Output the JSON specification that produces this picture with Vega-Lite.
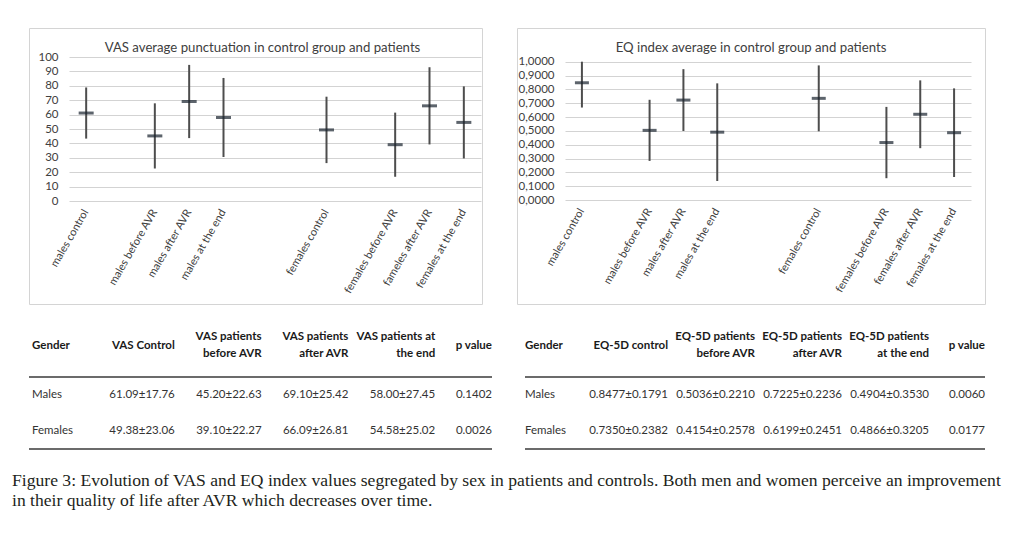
{
  "$schema": "https://vega.github.io/schema/vega-lite/v6.json",
  "padding": {"left": 2, "top": 27, "right": 0, "bottom": 0},
  "background": "white",
  "config": {"view": {"stroke": null}, "font": "Lato"},
  "datasets": {
    "vas": [
      {"group": "males control", "mean": 61.09, "low": 43.33, "high": 78.85},
      {"group": "males before AVR", "mean": 45.20, "low": 22.57, "high": 67.83},
      {"group": "males after AVR", "mean": 69.10, "low": 43.68, "high": 94.52},
      {"group": "males at the end", "mean": 58.00, "low": 30.55, "high": 85.45},
      {"group": "females control", "mean": 49.38, "low": 26.32, "high": 72.44},
      {"group": "females before AVR", "mean": 39.10, "low": 16.83, "high": 61.37},
      {"group": "fameles after AVR", "mean": 66.09, "low": 39.28, "high": 92.90},
      {"group": "females at the end", "mean": 54.58, "low": 29.56, "high": 79.60}
    ],
    "eq": [
      {"group": "males control", "mean": 0.8477, "low": 0.6686, "high": 1.0268},
      {"group": "males before AVR", "mean": 0.5036, "low": 0.2826, "high": 0.7246},
      {"group": "males after AVR", "mean": 0.7225, "low": 0.4989, "high": 0.9461},
      {"group": "males at the end", "mean": 0.4904, "low": 0.1374, "high": 0.8434},
      {"group": "females control", "mean": 0.7350, "low": 0.4968, "high": 0.9732},
      {"group": "females before AVR", "mean": 0.4154, "low": 0.1576, "high": 0.6732},
      {"group": "females after AVR", "mean": 0.6199, "low": 0.3748, "high": 0.8650},
      {"group": "females at the end", "mean": 0.4866, "low": 0.1661, "high": 0.8071}
    ],
    "vasTable": [
      {"row": "header", "col": "Gender", "text": "Gender"},
      {"row": "header", "col": "c1", "text": "VAS Control"},
      {"row": "header", "col": "c2", "text": ["VAS patients", "before AVR"]},
      {"row": "header", "col": "c3", "text": ["VAS patients", "after AVR"]},
      {"row": "header", "col": "c4", "text": ["VAS patients at", "the end"]},
      {"row": "header", "col": "p", "text": "p value"},
      {"row": "Males", "col": "Gender", "text": "Males"},
      {"row": "Males", "col": "c1", "text": "61.09±17.76"},
      {"row": "Males", "col": "c2", "text": "45.20±22.63"},
      {"row": "Males", "col": "c3", "text": "69.10±25.42"},
      {"row": "Males", "col": "c4", "text": "58.00±27.45"},
      {"row": "Males", "col": "p", "text": "0.1402"},
      {"row": "Females", "col": "Gender", "text": "Females"},
      {"row": "Females", "col": "c1", "text": "49.38±23.06"},
      {"row": "Females", "col": "c2", "text": "39.10±22.27"},
      {"row": "Females", "col": "c3", "text": "66.09±26.81"},
      {"row": "Females", "col": "c4", "text": "54.58±25.02"},
      {"row": "Females", "col": "p", "text": "0.0026"}
    ],
    "eqTable": [
      {"row": "header", "col": "Gender", "text": "Gender"},
      {"row": "header", "col": "c1", "text": "EQ-5D control"},
      {"row": "header", "col": "c2", "text": ["EQ-5D patients", "before AVR"]},
      {"row": "header", "col": "c3", "text": ["EQ-5D patients", "after AVR"]},
      {"row": "header", "col": "c4", "text": ["EQ-5D patients", "at the end"]},
      {"row": "header", "col": "p", "text": "p value"},
      {"row": "Males", "col": "Gender", "text": "Males"},
      {"row": "Males", "col": "c1", "text": "0.8477±0.1791"},
      {"row": "Males", "col": "c2", "text": "0.5036±0.2210"},
      {"row": "Males", "col": "c3", "text": "0.7225±0.2236"},
      {"row": "Males", "col": "c4", "text": "0.4904±0.3530"},
      {"row": "Males", "col": "p", "text": "0.0060"},
      {"row": "Females", "col": "Gender", "text": "Females"},
      {"row": "Females", "col": "c1", "text": "0.7350±0.2382"},
      {"row": "Females", "col": "c2", "text": "0.4154±0.2578"},
      {"row": "Females", "col": "c3", "text": "0.6199±0.2451"},
      {"row": "Females", "col": "c4", "text": "0.4866±0.3205"},
      {"row": "Females", "col": "p", "text": "0.0177"}
    ],
    "tableLines": [{"row": "header"}, {"row": "Females"}],
    "caption": [
      {"line": 1, "t": "Figure 3: Evolution of VAS and EQ index values segregated by sex in patients and controls. Both men and women perceive an improvement"},
      {"line": 2, "t": "in their quality of life after AVR which decreases over time."}
    ]
  },
  "spacing": 21,
  "vconcat": [
    {
      "spacing": 0,
      "hconcat": [
        {"width": 26, "height": 10, "data": {"values": []}, "mark": "text"},
        {
          "spacing": 26,
          "vconcat": [
            {
              "spacing": 33,
              "hconcat": [
                {
                  "width": 453, "height": 276,
                  "view": {"stroke": "#d4d4d4", "strokeWidth": 1, "fill": "white"},
                  "title": {"text": "VAS average punctuation  in control group and patients", "offset": -27, "dx": 7, "anchor": "middle", "font": "Lato", "fontSize": 13.2, "fontWeight": "normal", "color": "#404040"},
                  "data": {"name": "vas"},
                  "encoding": {
                    "x": {
                      "field": "group", "type": "nominal",
                      "scale": {"type": "band", "domain": ["males control", " ", "males before AVR", "males after AVR", "males at the end", "  ", "   ", "females control", "    ", "females before AVR", "fameles after AVR", "females at the end"], "range": [40, 452], "paddingInner": 0, "paddingOuter": 0},
                      "axis": {"orient": "bottom", "offset": -103, "title": null, "labelAngle": -60, "labelAlign": "right", "labelBaseline": "middle", "labelPadding": 9, "ticks": false, "domain": false, "grid": false, "labelFont": "Lato", "labelFontSize": 11, "labelColor": "#404040"}
                    }
                  },
                  "layer": [
                    {
                      "mark": {"type": "rule", "color": "#4d4d4d", "strokeWidth": 2},
                      "encoding": {
                        "y": {"field": "low", "type": "quantitative", "scale": {"domain": [0, 100], "range": [173, 29], "nice": false, "clamp": true},
                          "axis": {"orient": "left", "offset": -40, "title": null, "values": [0, 10, 20, 30, 40, 50, 60, 70, 80, 90, 100], "format": "d", "domain": false, "ticks": false, "labelPadding": 11, "grid": true, "gridColor": "#d3d3d3", "gridWidth": 1, "labelOverlap": false, "labelFont": "Lato", "labelFontSize": 11.5, "labelColor": "#404040"}},
                        "y2": {"field": "high"}
                      }
                    },
                    {
                      "mark": {"type": "tick", "orient": "horizontal", "size": 15, "thickness": 3, "color": "#18222d"},
                      "encoding": {"y": {"field": "mean", "type": "quantitative",
                        "axis": {"orient": "left", "offset": -40, "title": null, "values": [0, 10, 20, 30, 40, 50, 60, 70, 80, 90, 100], "format": "d", "domain": false, "ticks": false, "labelPadding": 11, "grid": true, "gridColor": "#d3d3d3", "gridWidth": 1, "labelOverlap": false, "labelFont": "Lato", "labelFontSize": 11.5, "labelColor": "#404040"}}}
                    }
                  ]
                },
                {
                  "width": 468, "height": 276,
                  "view": {"stroke": "#d4d4d4", "strokeWidth": 1, "fill": "white"},
                  "title": {"text": "EQ index average in control group and patients", "offset": -27, "anchor": "middle", "font": "Lato", "fontSize": 13.2, "fontWeight": "normal", "color": "#404040"},
                  "data": {"name": "eq"},
                  "encoding": {
                    "x": {
                      "field": "group", "type": "nominal",
                      "scale": {"type": "band", "domain": ["males control", " ", "males before AVR", "males after AVR", "males at the end", "  ", "   ", "females control", "    ", "females before AVR", "females after AVR", "females at the end"], "range": [48, 454], "paddingInner": 0, "paddingOuter": 0},
                      "axis": {"orient": "bottom", "offset": -104, "title": null, "labelAngle": -60, "labelAlign": "right", "labelBaseline": "middle", "labelPadding": 9, "ticks": false, "domain": false, "grid": false, "labelFont": "Lato", "labelFontSize": 11, "labelColor": "#404040"}
                    }
                  },
                  "layer": [
                    {
                      "mark": {"type": "rule", "color": "#4d4d4d", "strokeWidth": 2},
                      "encoding": {
                        "y": {"field": "low", "type": "quantitative", "scale": {"domain": [0, 1], "range": [172, 33.7], "nice": false, "clamp": true},
                          "axis": {"orient": "left", "offset": -48, "title": null, "values": [0, 0.1, 0.2, 0.3, 0.4, 0.5, 0.6, 0.7, 0.8, 0.9, 1], "labelExpr": "replace(format(datum.value, '.4f'), '.', ',')", "domain": false, "ticks": false, "labelPadding": 11, "grid": true, "gridColor": "#d3d3d3", "gridWidth": 1, "labelOverlap": false, "labelFont": "Lato", "labelFontSize": 11.5, "labelColor": "#404040"}},
                        "y2": {"field": "high"}
                      }
                    },
                    {
                      "mark": {"type": "tick", "orient": "horizontal", "size": 14, "thickness": 3, "color": "#18222d"},
                      "encoding": {"y": {"field": "mean", "type": "quantitative",
                        "axis": {"orient": "left", "offset": -48, "title": null, "values": [0, 0.1, 0.2, 0.3, 0.4, 0.5, 0.6, 0.7, 0.8, 0.9, 1], "labelExpr": "replace(format(datum.value, '.4f'), '.', ',')", "domain": false, "ticks": false, "labelPadding": 11, "grid": true, "gridColor": "#d3d3d3", "gridWidth": 1, "labelOverlap": false, "labelFont": "Lato", "labelFontSize": 11.5, "labelColor": "#404040"}}}
                    }
                  ]
                }
              ]
            },
            {
              "spacing": 31,
              "hconcat": [
                {
                  "width": 463, "height": 108,
                  "data": {"name": "vasTable"},
                  "encoding": {
                    "y": {"field": "row", "type": "nominal", "scale": {"type": "band", "domain": ["header", "Males", "Females"], "paddingInner": 0, "paddingOuter": 0}, "axis": null}
                  },
                  "layer": [
                    {
                      "transform": [{"filter": "datum.row === 'header' && datum.col === 'Gender'"}],
                      "mark": {"type": "text", "align": "left", "baseline": "middle", "dx": -56, "dy": -13, "font": "Lato", "fontSize": 11.5, "fontWeight": "bold", "color": "#1a1a1a"},
                      "encoding": {"x": {"field": "col", "type": "nominal", "scale": {"type": "point", "domain": ["Gender", "c1", "c2", "c3", "c4", "p"], "range": [59, 493], "padding": 0}, "axis": null}, "text": {"field": "text"}}
                    },
                    {
                      "transform": [{"filter": "datum.row === 'header' && datum.col === 'c1'"}],
                      "mark": {"type": "text", "align": "right", "baseline": "middle", "dy": -13, "font": "Lato", "fontSize": 11.5, "fontWeight": "bold", "color": "#1a1a1a"},
                      "encoding": {"x": {"field": "col", "type": "nominal", "axis": null}, "text": {"field": "text"}}
                    },
                    {
                      "transform": [{"filter": "datum.row === 'header' && (datum.col === 'c2' || datum.col === 'c3' || datum.col === 'c4')"}],
                      "mark": {"type": "text", "align": "right", "baseline": "middle", "dy": -22, "font": "Lato", "fontSize": 11.5, "fontWeight": "bold", "color": "#1a1a1a", "lineHeight": 17},
                      "encoding": {"x": {"field": "col", "type": "nominal", "axis": null}, "text": {"field": "text"}}
                    },
                    {
                      "transform": [{"filter": "datum.row === 'header' && datum.col === 'p'"}],
                      "mark": {"type": "text", "align": "right", "baseline": "middle", "dx": -30, "dy": -13, "font": "Lato", "fontSize": 11.5, "fontWeight": "bold", "color": "#1a1a1a"},
                      "encoding": {"x": {"field": "col", "type": "nominal", "axis": null}, "text": {"field": "text"}}
                    },
                    {
                      "transform": [{"filter": "datum.row !== 'header' && datum.col === 'Gender'"}],
                      "mark": {"type": "text", "align": "left", "baseline": "middle", "dx": -56, "font": "Lato", "fontSize": 11.5, "color": "#333333"},
                      "encoding": {"x": {"field": "col", "type": "nominal", "axis": null}, "text": {"field": "text"}}
                    },
                    {
                      "transform": [{"filter": "datum.row !== 'header' && datum.col !== 'Gender' && datum.col !== 'p'"}],
                      "mark": {"type": "text", "align": "right", "baseline": "middle", "font": "Lato", "fontSize": 11.5, "color": "#333333"},
                      "encoding": {"x": {"field": "col", "type": "nominal", "axis": null}, "text": {"field": "text"}}
                    },
                    {
                      "transform": [{"filter": "datum.row !== 'header' && datum.col === 'p'"}],
                      "mark": {"type": "text", "align": "right", "baseline": "middle", "dx": -30, "font": "Lato", "fontSize": 11.5, "color": "#333333"},
                      "encoding": {"x": {"field": "col", "type": "nominal", "axis": null}, "text": {"field": "text"}}
                    },
                    {
                      "data": {"name": "tableLines"},
                      "mark": {"type": "rule", "color": "#3a3a3a", "strokeWidth": 1.5},
                      "encoding": {"y": {"field": "row", "type": "nominal", "bandPosition": 1, "axis": null}}
                    }
                  ]
                },
                {
                  "width": 460, "height": 108,
                  "data": {"name": "eqTable"},
                  "encoding": {
                    "y": {"field": "row", "type": "nominal", "scale": {"type": "band", "domain": ["header", "Males", "Females"], "paddingInner": 0, "paddingOuter": 0}, "axis": null}
                  },
                  "layer": [
                    {
                      "transform": [{"filter": "datum.row === 'header' && datum.col === 'Gender'"}],
                      "mark": {"type": "text", "align": "left", "baseline": "middle", "dx": -56, "dy": -13, "font": "Lato", "fontSize": 11.5, "fontWeight": "bold", "color": "#1a1a1a"},
                      "encoding": {"x": {"field": "col", "type": "nominal", "scale": {"type": "point", "domain": ["Gender", "c1", "c2", "c3", "c4", "p"], "range": [56, 491], "padding": 0}, "axis": null}, "text": {"field": "text"}}
                    },
                    {
                      "transform": [{"filter": "datum.row === 'header' && datum.col === 'c1'"}],
                      "mark": {"type": "text", "align": "right", "baseline": "middle", "dy": -13, "font": "Lato", "fontSize": 11.5, "fontWeight": "bold", "color": "#1a1a1a"},
                      "encoding": {"x": {"field": "col", "type": "nominal", "axis": null}, "text": {"field": "text"}}
                    },
                    {
                      "transform": [{"filter": "datum.row === 'header' && (datum.col === 'c2' || datum.col === 'c3' || datum.col === 'c4')"}],
                      "mark": {"type": "text", "align": "right", "baseline": "middle", "dy": -22, "font": "Lato", "fontSize": 11.5, "fontWeight": "bold", "color": "#1a1a1a", "lineHeight": 17},
                      "encoding": {"x": {"field": "col", "type": "nominal", "axis": null}, "text": {"field": "text"}}
                    },
                    {
                      "transform": [{"filter": "datum.row === 'header' && datum.col === 'p'"}],
                      "mark": {"type": "text", "align": "right", "baseline": "middle", "dx": -31, "dy": -13, "font": "Lato", "fontSize": 11.5, "fontWeight": "bold", "color": "#1a1a1a"},
                      "encoding": {"x": {"field": "col", "type": "nominal", "axis": null}, "text": {"field": "text"}}
                    },
                    {
                      "transform": [{"filter": "datum.row !== 'header' && datum.col === 'Gender'"}],
                      "mark": {"type": "text", "align": "left", "baseline": "middle", "dx": -56, "font": "Lato", "fontSize": 11.5, "color": "#333333"},
                      "encoding": {"x": {"field": "col", "type": "nominal", "axis": null}, "text": {"field": "text"}}
                    },
                    {
                      "transform": [{"filter": "datum.row !== 'header' && datum.col !== 'Gender' && datum.col !== 'p'"}],
                      "mark": {"type": "text", "align": "right", "baseline": "middle", "font": "Lato", "fontSize": 11.5, "color": "#333333"},
                      "encoding": {"x": {"field": "col", "type": "nominal", "axis": null}, "text": {"field": "text"}}
                    },
                    {
                      "transform": [{"filter": "datum.row !== 'header' && datum.col === 'p'"}],
                      "mark": {"type": "text", "align": "right", "baseline": "middle", "dx": -31, "font": "Lato", "fontSize": 11.5, "color": "#333333"},
                      "encoding": {"x": {"field": "col", "type": "nominal", "axis": null}, "text": {"field": "text"}}
                    },
                    {
                      "data": {"name": "tableLines"},
                      "mark": {"type": "rule", "color": "#3a3a3a", "strokeWidth": 1.5},
                      "encoding": {"y": {"field": "row", "type": "nominal", "bandPosition": 1, "axis": null}}
                    }
                  ]
                }
              ]
            }
          ]
        }
      ]
    },
    {
      "width": 1000, "height": 40,
      "data": {"name": "caption"},
      "mark": {"type": "text", "align": "left", "baseline": "middle", "dx": 10, "font": "Liberation Serif", "fontSize": 17.6, "color": "#231f20"},
      "encoding": {
        "x": {"datum": 0, "type": "quantitative", "scale": {"domain": [0, 1]}, "axis": null},
        "y": {"field": "line", "type": "ordinal", "axis": null},
        "text": {"field": "t"}
      }
    }
  ]
}
